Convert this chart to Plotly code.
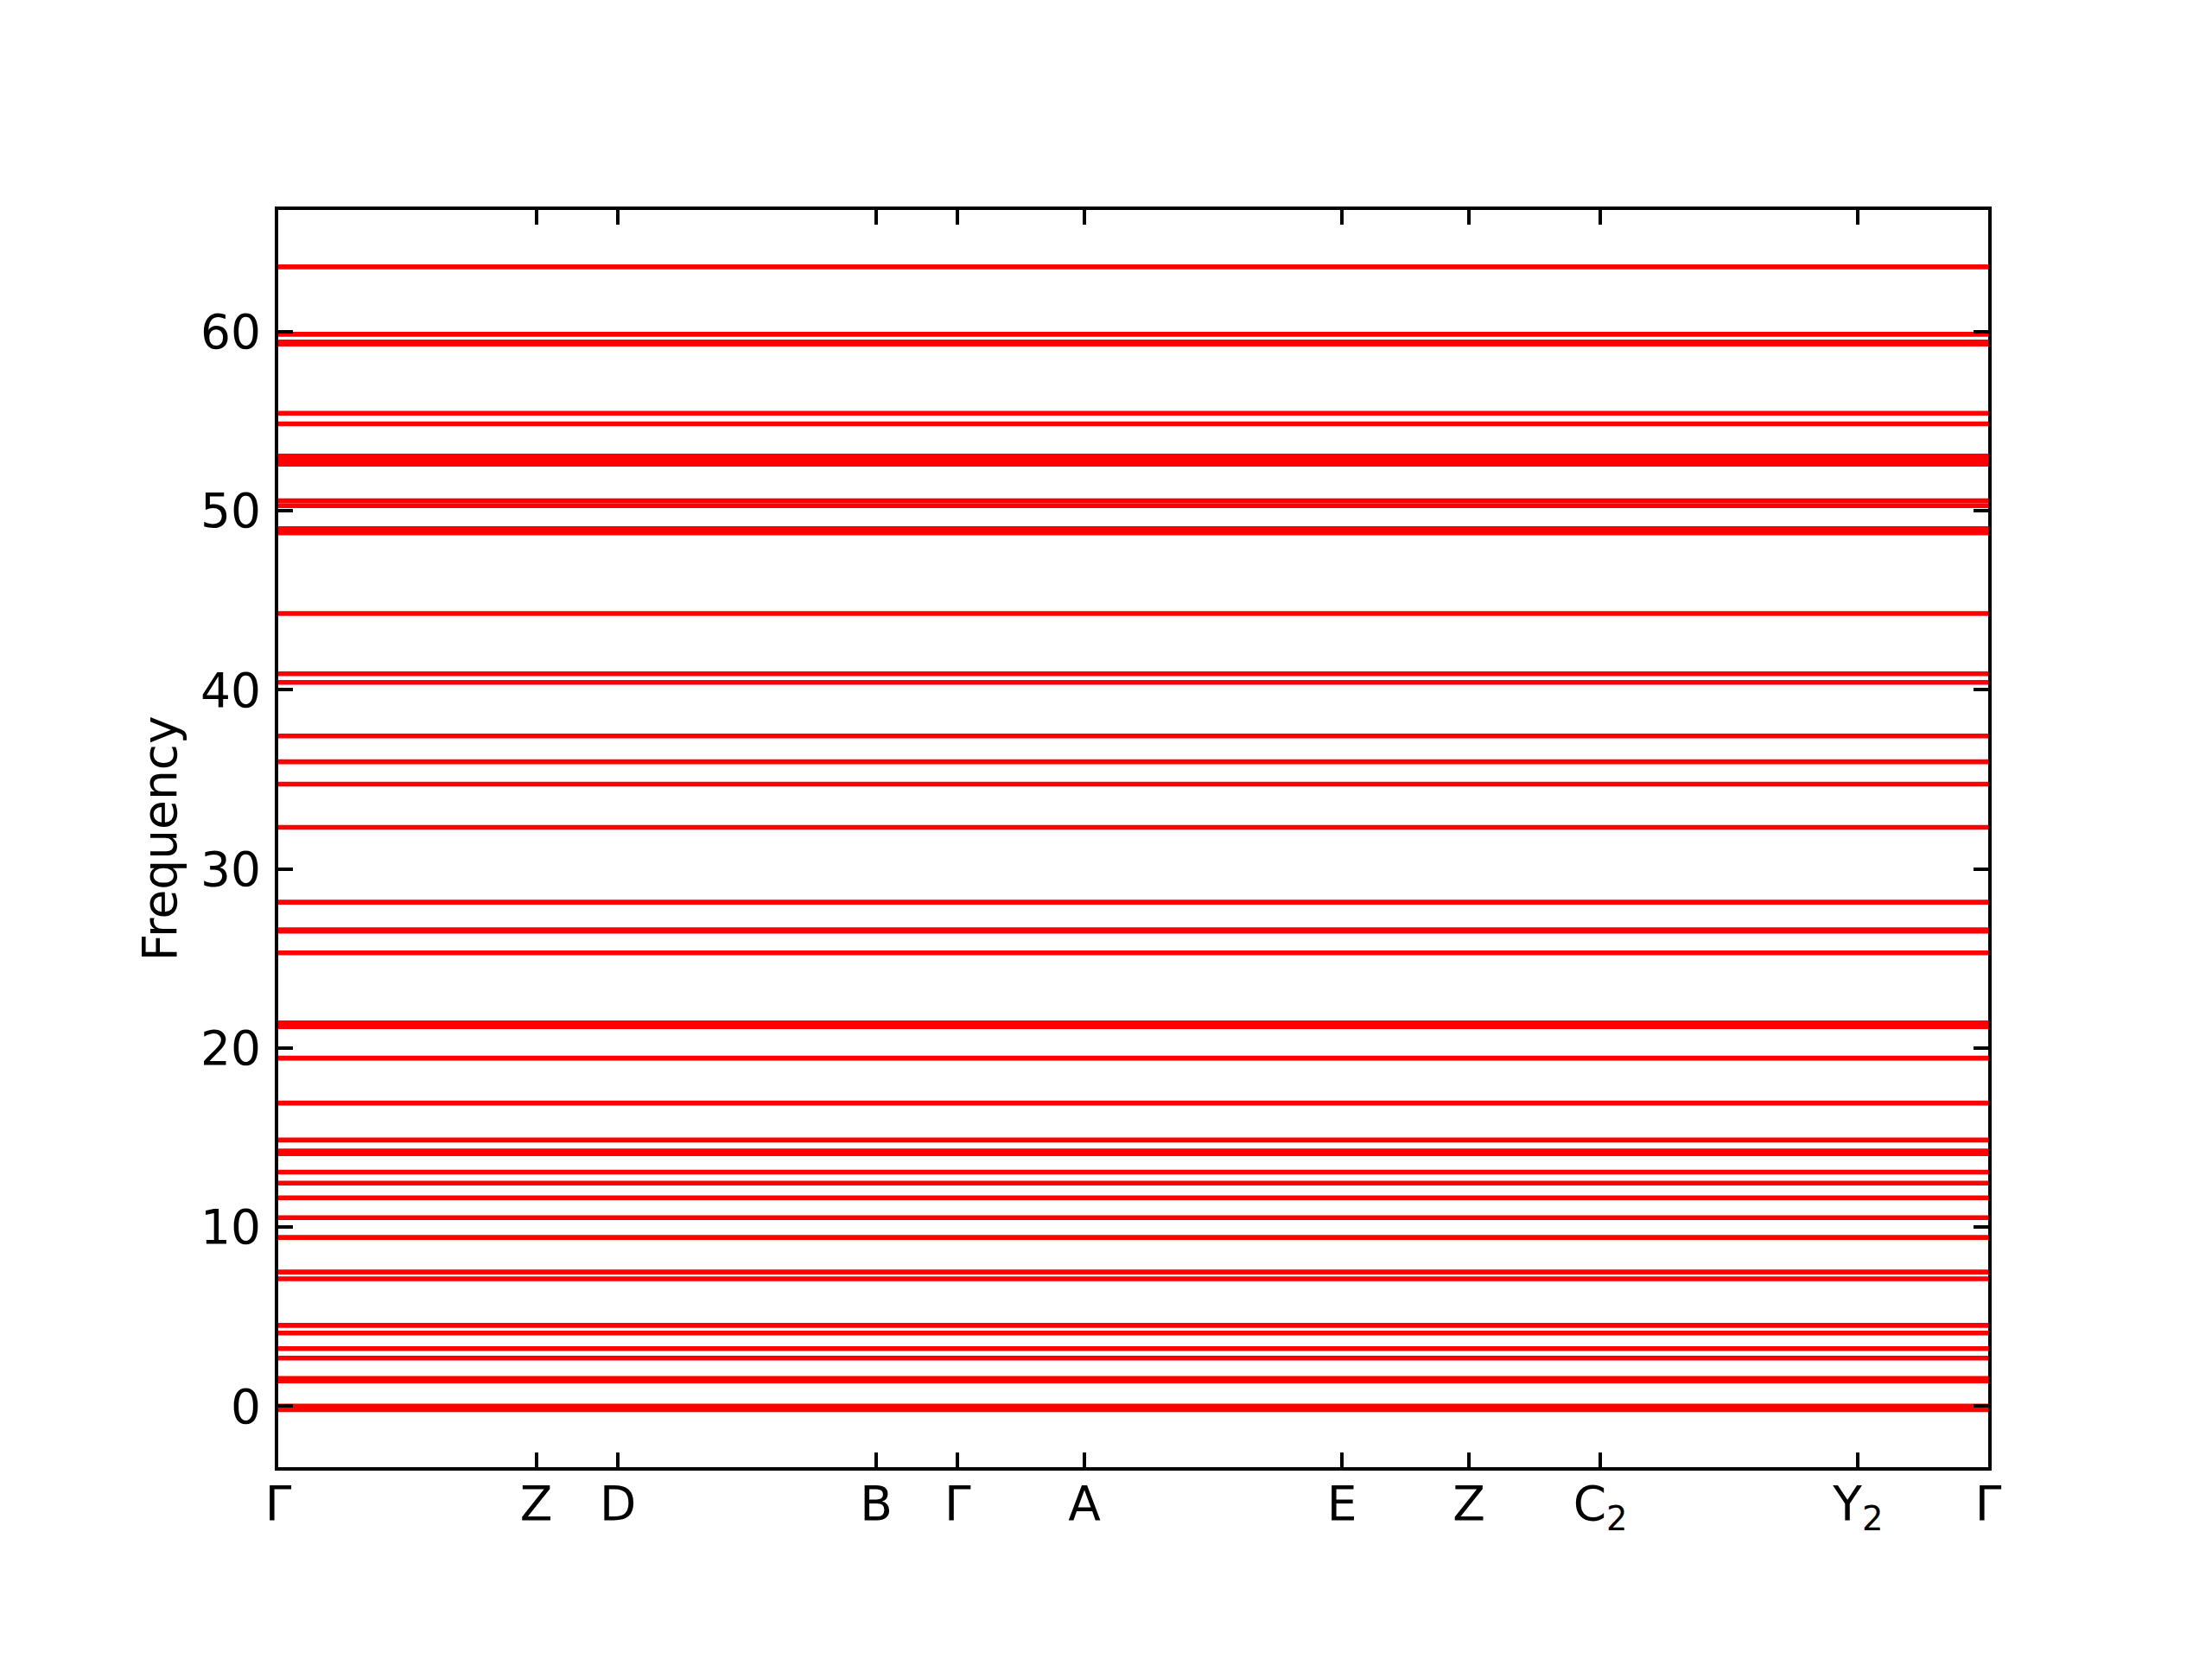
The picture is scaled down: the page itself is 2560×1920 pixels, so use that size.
import plotly.graph_objects as go

# High-symmetry points along the k-path (normalized path distance)
kpoint_labels = ["Γ", "Z", "D", "B", "Γ", "A", "E", "Z", "C<sub>2</sub>", "Y<sub>2</sub>", "Γ"]
kpoint_dist = [0.0, 0.1509, 0.1987, 0.3497, 0.3974, 0.4715, 0.6221, 0.6964, 0.7732, 0.9239, 1.0]

# Band frequencies (flat bands)
band_freqs = [
    63.61, 59.85, 59.42, 59.30, 55.44, 54.85,
    53.05, 52.82, 52.60, 50.55, 50.28, 49.00, 48.76,
    44.26, 40.89, 40.41, 37.42, 35.98, 34.73, 32.32,
    28.14, 26.60, 26.52, 25.31, 21.40, 21.19, 19.43, 16.92,
    14.86, 14.25, 14.10, 13.07, 12.45, 11.63, 10.52, 9.42,
    7.49, 7.11, 4.51, 4.08, 3.21, 2.68, 1.55, 1.41,
    0.00, -0.10, -0.20,
]

y_ticks = [0, 10, 20, 30, 40, 50, 60]
y_range = [-3.41, 66.79]

FONT = "DejaVu Sans"

fig = go.Figure()
for f in band_freqs:
    fig.add_trace(go.Scatter(
        x=kpoint_dist,
        y=[f] * len(kpoint_dist),
        mode="lines",
        line=dict(color="#ff0000", width=5.6),
        showlegend=False,
        hoverinfo="skip",
    ))

axis_common = dict(
    showline=True, linecolor="black", linewidth=4, mirror="allticks",
    ticks="inside", ticklen=17, tickwidth=3.5, tickcolor="black",
    showgrid=False, zeroline=False,
    tickfont=dict(family=FONT, size=55, color="black"),
)

fig.update_xaxes(
    range=[kpoint_dist[0], kpoint_dist[-1]],
    tickmode="array", tickvals=kpoint_dist, ticktext=kpoint_labels,
    ticklabelstandoff=-9,
    **axis_common,
)
fig.update_yaxes(
    range=y_range,
    tickmode="array", tickvals=y_ticks, ticktext=[str(v) for v in y_ticks],
    ticklabelstandoff=5,
    title=dict(text="Frequency", font=dict(family=FONT, size=55, color="black"), standoff=11),
    **axis_common,
)

fig.update_layout(
    width=2560, height=1920,
    margin=dict(l=314, r=267, t=235, b=230, autoexpand=False),
    paper_bgcolor="white", plot_bgcolor="white",
    font=dict(family=FONT, size=55, color="black"),
)

fig.write_html("out.html")
